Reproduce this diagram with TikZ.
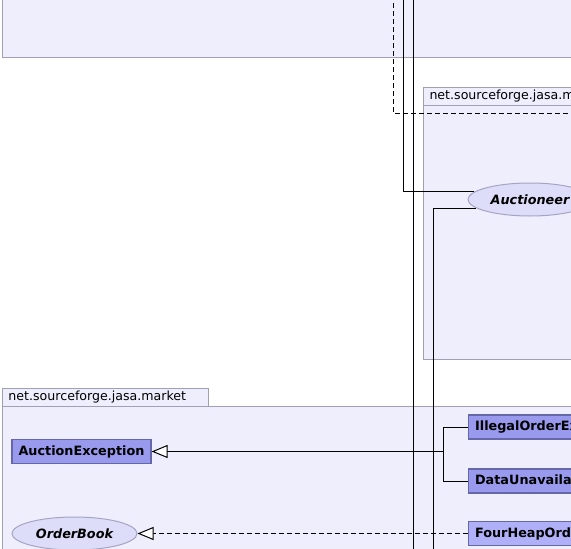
\documentclass[tikz,border=0pt]{standalone}
\usepackage{fontspec}
\setmainfont{DejaVu Sans}
\usetikzlibrary{arrows.meta,shapes.geometric}
\definecolor{pkgfill}{RGB}{238,238,253}
\definecolor{pkgline}{RGB}{160,160,178}
\definecolor{clsfill}{RGB}{153,153,238}
\definecolor{clsline}{RGB}{102,102,170}
\definecolor{absfill}{RGB}{176,176,248}
\definecolor{ellfill}{RGB}{221,221,250}
\definecolor{ellline}{RGB}{165,165,195}
\tikzset{
  pkgbody/.style={draw=pkgline,fill=pkgfill,line width=1pt},
  pkgtab/.style={draw=pkgline,fill=pkgfill,line width=1pt,anchor=north west,
    minimum height=18pt,inner ysep=0pt,inner xsep=6pt,align=left,
    font=\fontsize{12.6}{14}\selectfont},
  clsbox/.style={draw=clsline,fill=clsfill,line width=1.2pt,minimum height=24pt,
    inner xsep=6.5pt,inner ysep=0pt,font=\fontsize{12.8}{14}\selectfont\bfseries},
  absbox/.style={clsbox,fill=absfill},
  iface/.style={ellipse,draw=ellline,fill=ellfill,line width=1pt,inner sep=0pt,
    minimum height=33pt,font=\fontsize{12.8}{14}\selectfont\bfseries\itshape},
  conn/.style={line width=1pt,black},
  dep/.style={conn,dash pattern=on 5pt off 3pt},
  gen/.style={conn,-{Triangle[open,length=16pt,width=13pt,fill=white]}},
  real/.style={dep,-{Triangle[open,length=16pt,width=13pt,fill=white]}}
}
\begin{document}
\begin{tikzpicture}[x=1pt,y=-1pt]
\clip (0,0) rectangle (571,549);
% packages
\draw[pkgbody] (2,-10) rectangle (600,57);
\node[pkgtab,text width=400pt] (tabB) at (423,87) {net.sourceforge.jasa.market.auctioneer};
\draw[pkgbody] (423,105) rectangle (600,359);
\node[pkgtab,text width=194pt] (tabC) at (2,388) {net.sourceforge.jasa.market};
\draw[pkgbody] (2,406) rectangle (600,600);
% classes
\node[iface,minimum width=124pt] (auc) at (530,199.5) {Auctioneer};
\node[iface,minimum width=125pt] (ob) at (74.5,533.5) {OrderBook};
\node[clsbox,minimum width=139pt] (ae) at (81.5,451.5) {AuctionException};
\node[clsbox,anchor=west] (ioe) at (468,427) {IllegalOrderException};
\node[clsbox,anchor=west] (due) at (468,481) {DataUnavailableException};
\node[absbox,anchor=west] (fho) at (468,533.5) {FourHeapOrderBook};
% free ends
\coordinate (t1) at (393,-5);
\coordinate (t2) at (403,-5);
\coordinate (t3) at (413,-5);
\coordinate (b3) at (413,560);
\coordinate (r1) at (600,113);
\coordinate (b4) at (433,560);
\coordinate (j) at (443,451.5);
% connectors
\draw[dep] (t1) |- (r1);
\draw[conn] (t2) |- (auc.172);
\draw[conn] (t3) -- (b3);
\draw[conn] (auc.189) -| (b4);
\draw[conn] (ioe.west) -| (j);
\draw[conn] (due.west) -| (j);
\draw[gen] (j) -- (ae.east);
\draw[real] (fho.west) -- (ob.east);
\end{tikzpicture}
\end{document}
